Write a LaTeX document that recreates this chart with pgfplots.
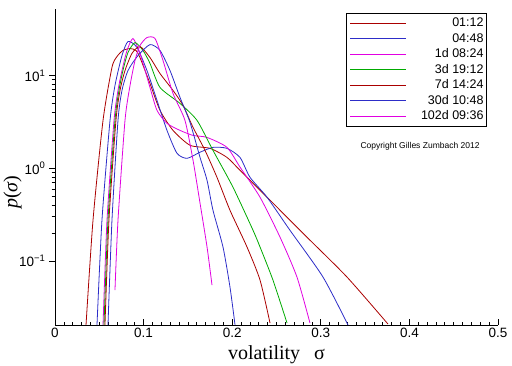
\documentclass[border=0pt]{standalone}
\usepackage{fontspec}
\setmainfont{Liberation Sans}
\newfontfamily\seriffont{Liberation Serif}
\usepackage{pgfplots}
\pgfplotsset{compat=1.18}
\definecolor{cred}{RGB}{170,0,0}
\definecolor{cblue}{RGB}{45,45,200}
\definecolor{cmag}{RGB}{225,0,225}
\definecolor{cgreen}{RGB}{0,170,0}
\begin{document}
\begin{tikzpicture}
\useasboundingbox (0,0) rectangle (512bp,366bp);
\begin{axis}[
  at={(55bp,41bp)}, anchor=south west, scale only axis,
  width=443bp, height=316bp,
  xmin=0, xmax=0.5, ymode=log, ymin=0.0205, ymax=52,
  axis x line*=bottom, axis y line*=left,
  xtick pos=bottom, ytick pos=left,
  axis line style={-, black, line width=0.8bp},
  xtick={0,0.1,0.2,0.3,0.4,0.5},
  xticklabels={0,0.1,0.2,0.3,0.4,0.5},
  minor x tick num=9,
  ytick={0.1,1,10},
  yticklabels={10\textsuperscript{−1},10\textsuperscript{0},10\textsuperscript{1}},
  xtick align=inside, ytick align=outside,
  major tick length=6bp, minor tick length=3.5bp,
  every tick/.style={black, line width=0.7bp},
  tick label style={font=\fontsize{13.5bp}{15bp}\selectfont},
  xlabel={\seriffont volatility\hspace{14bp}σ},
  xlabel style={at={(axis description cs:0.5,-0.108)}, anchor=base, font=\fontsize{20bp}{22bp}\selectfont},
  ylabel={\seriffont\itshape p\upshape(\itshape σ\upshape)},
  ylabel style={at={(axis description cs:-0.096,0.42)}, anchor=center, rotate=0, font=\fontsize{20bp}{22bp}\selectfont},
  legend style={at={(0.975,0.987)}, anchor=north east, draw=black, line width=0.7bp,
    inner xsep=3bp, inner ysep=2bp, column sep=4bp,
    font=\fontsize{12.5bp}{14bp}\selectfont,
    nodes={inner sep=0pt, minimum height=15.5bp}},
  legend image code/.code={\draw[#1, line width=0.8bp] (0bp,0bp) -- (56bp,0bp);},
  every axis plot/.append style={line width=0.8bp, smooth, tension=0.4},
]
\addplot[cred] coordinates {(0.0350,0.0205) (0.0429,0.276) (0.0542,3.28) (0.0643,12.2) (0.0700,16.0) (0.0767,18.6) (0.0847,19.5) (0.0914,18.6) (0.0959,15.6) (0.1072,8.20) (0.1185,4.21) (0.1332,2.56) (0.1524,1.77) (0.1749,1.64) (0.1941,1.31) (0.2088,0.951) (0.2427,0.453) (0.2844,0.181) (0.3296,0.0673) (0.3758,0.0210)};
\addlegendentry{\makebox[73bp][r]{01:12}}
\addplot[cblue] coordinates {(0.0474,0.0205) (0.0530,0.276) (0.0621,3.28) (0.0677,7.80) (0.0756,16.4) (0.0824,23.2) (0.0926,20.0) (0.1038,11.3) (0.1151,5.39) (0.1264,2.56) (0.1377,1.45) (0.1490,1.28) (0.1637,1.49) (0.1783,1.68) (0.1941,1.64) (0.2088,1.31) (0.2201,0.800) (0.2393,0.488) (0.2652,0.215) (0.3025,0.0673) (0.3307,0.0205)};
\addlegendentry{\makebox[73bp][r]{04:48}}
\addplot[cmag] coordinates {(0.0542,0.0205) (0.0587,0.276) (0.0666,3.28) (0.0711,6.90) (0.0756,11.3) (0.0813,18.6) (0.0880,25.0) (0.0959,17.3) (0.1072,7.43) (0.1151,4.21) (0.1264,3.05) (0.1411,2.56) (0.1558,2.26) (0.1716,2.15) (0.1941,1.68) (0.2088,1.03) (0.2314,0.488) (0.2540,0.181) (0.2731,0.0673) (0.2878,0.0215)};
\addlegendentry{\makebox[73bp][r]{1d 08:24}}
\addplot[cgreen] coordinates {(0.0553,0.0205) (0.0598,0.276) (0.0677,3.28) (0.0722,6.90) (0.0767,11.3) (0.0824,17.7) (0.0903,22.6) (0.0993,18.6) (0.1072,13.5) (0.1185,7.43) (0.1411,5.00) (0.1603,3.28) (0.1783,1.56) (0.2009,0.625) (0.2235,0.215) (0.2314,0.142) (0.2460,0.0625) (0.2619,0.0215)};
\addlegendentry{\makebox[73bp][r]{3d 19:12}}
\addplot[cred] coordinates {(0.0564,0.0205) (0.0609,0.276) (0.0688,3.28) (0.0734,6.90) (0.0790,11.3) (0.0869,17.3) (0.0959,20.5) (0.1072,15.6) (0.1185,10.5) (0.1332,6.90) (0.1445,4.76) (0.1558,2.76) (0.1693,1.56) (0.1828,0.800) (0.1975,0.353) (0.2167,0.142) (0.2314,0.0625) (0.2427,0.0215)};
\addlegendentry{\makebox[73bp][r]{7d 14:24}}
\addplot[cblue] coordinates {(0.0598,0.0205) (0.0643,0.276) (0.0711,3.28) (0.0756,6.90) (0.0824,11.3) (0.0937,16.4) (0.1072,21.5) (0.1185,18.6) (0.1298,11.3) (0.1411,5.80) (0.1524,3.12) (0.1637,1.31) (0.1716,0.743) (0.1783,0.353) (0.1896,0.142) (0.1975,0.0525) (0.2032,0.0205)};
\addlegendentry{\makebox[73bp][r]{30d 10:48}}
\addplot[cmag] coordinates {(0.0677,0.0488) (0.0711,0.276) (0.0790,3.28) (0.0847,7.80) (0.0903,14.5) (0.0959,21.0) (0.1038,25.6) (0.1129,25.0) (0.1219,14.5) (0.1332,6.40) (0.1467,3.28) (0.1558,1.22) (0.1637,0.421) (0.1716,0.142) (0.1772,0.0552)};
\addlegendentry{\makebox[73bp][r]{102d 09:36}}
\node[font=\fontsize{8.5bp}{10bp}\selectfont, anchor=center] at (axis description cs:0.824,0.566) {Copyright Gilles Zumbach 2012};
\end{axis}
\end{tikzpicture}
\end{document}
